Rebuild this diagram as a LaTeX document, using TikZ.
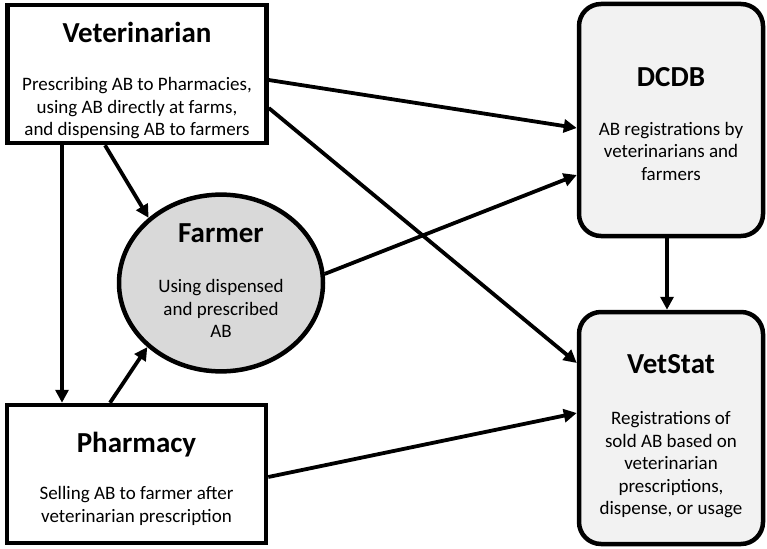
\documentclass[tikz,border=0pt]{standalone}
\usepackage{fontspec}
\setmainfont{Carlito}
\usetikzlibrary{arrows.meta,shapes.geometric}
\definecolor{dbgray}{HTML}{F2F2F2}
\definecolor{farmgray}{HTML}{D9D9D9}
\newcommand{\boxtitle}[2][0pt]{{\fontsize{29}{30}\selectfont\bfseries\rule{0pt}{\dimexpr21.5pt+#1\relax}#2}}
\newcommand{\boxend}[1]{\rule[-#1]{0pt}{#1}}
\begin{document}
\begin{tikzpicture}[x=1pt, y=-1pt,
  actor/.style={draw, line width=4.5pt, rectangle, align=center, inner sep=0pt,
    font=\fontsize{19}{22.5}\selectfont},
  agent/.style={actor, fill=white, minimum width=259pt, minimum height=138pt},
  register/.style={actor, fill=dbgray, rounded corners=22pt, minimum width=184pt, minimum height=232pt},
  flow/.style={line width=3.8pt, -{Triangle[length=13pt,width=13pt]}}]
\useasboundingbox (0,0) rectangle (767,548);
\node[agent] (vet) at (137,74){\boxtitle[12pt]{Veterinarian}\\[26pt]Prescribing AB to Pharmacies,\\using AB directly at farms,\\and dispensing AB to farmers};
\node[agent] (pharm) at (136.5,474){\boxtitle[8pt]{Pharmacy}\\[25pt]Selling AB to farmer after\\veterinarian prescription};
\node[actor, ellipse, fill=farmgray, minimum width=204pt, minimum height=176pt] (farmer) at (221,283){\boxtitle{Farmer}\\[28pt]Using dispensed\\and prescribed\\AB\boxend{8pt}};
\node[register] (dcdb) at (671,120){\boxtitle[6pt]{DCDB}\\[26pt]AB registrations by\\veterinarians and\\farmers};
\node[register] (vetstat) at (671,428){\boxtitle[14pt]{VetStat}\\[29pt]Registrations of\\sold AB based on\\veterinarian\\prescriptions,\\dispense, or usage};
\draw[flow]([xshift=-75pt]vet.south) -- ([xshift=-74.5pt]pharm.north);
\draw[flow]([xshift=-32pt]vet.south) -- (farmer.138);
\draw[flow]([xshift=-26.5pt]pharm.north) -- (farmer.221);
\draw[flow]([yshift=-6pt]vet.east) -- ([yshift=-8pt]dcdb.west);
\draw[flow]([yshift=-34pt]vet.east) -- ([yshift=65pt]vetstat.west);
\draw[flow](farmer.5) -- ([yshift=-55pt]dcdb.west);
\draw[flow]([yshift=-3pt]pharm.east) -- ([yshift=15pt]vetstat.west);
\draw[flow]([xshift=-4pt]dcdb.south) -- ([xshift=-4pt]vetstat.north);
\end{tikzpicture}
\end{document}
